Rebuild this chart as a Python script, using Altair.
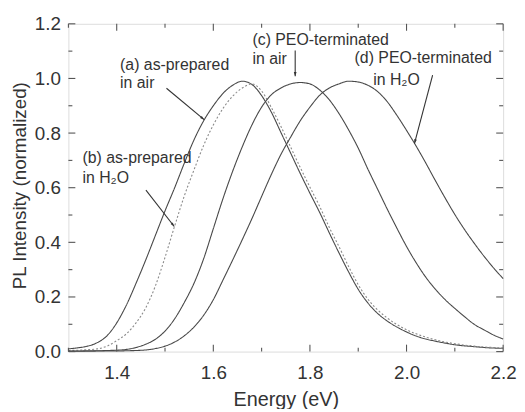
import math
import altair as alt
import pandas as pd

# ---------------- data ----------------
energy = [1.30, 1.32, 1.34, 1.36, 1.38, 1.40, 1.42, 1.44, 1.46, 1.48,
          1.50, 1.52, 1.54, 1.56, 1.58, 1.60, 1.62, 1.64, 1.66, 1.68,
          1.70, 1.72, 1.74, 1.76, 1.78, 1.80, 1.82, 1.84, 1.86, 1.88,
          1.90, 1.92, 1.94, 1.96, 1.98, 2.00, 2.02, 2.04, 2.06, 2.08,
          2.10, 2.12, 2.14, 2.16, 2.18, 2.20]

pl_a = [0.010, 0.014, 0.020, 0.033, 0.058, 0.105, 0.170, 0.250, 0.335, 0.425,
        0.515, 0.600, 0.690, 0.775, 0.845, 0.900, 0.945, 0.975, 0.990, 0.978,
        0.937, 0.877, 0.802, 0.727, 0.652, 0.580, 0.510, 0.435, 0.362, 0.292,
        0.228, 0.178, 0.140, 0.112, 0.090, 0.072, 0.057, 0.046, 0.038, 0.031,
        0.025, 0.021, 0.018, 0.015, 0.013, 0.012]

pl_b = [0.004, 0.005, 0.007, 0.010, 0.020, 0.040, 0.065, 0.105, 0.160, 0.240,
        0.345, 0.460, 0.570, 0.665, 0.755, 0.830, 0.890, 0.935, 0.965, 0.980,
        0.954, 0.894, 0.824, 0.749, 0.674, 0.602, 0.532, 0.455, 0.385, 0.312,
        0.245, 0.192, 0.153, 0.123, 0.099, 0.080, 0.065, 0.053, 0.043, 0.035,
        0.029, 0.024, 0.020, 0.017, 0.015, 0.013]

pl_c = [0.002, 0.002, 0.003, 0.003, 0.004, 0.005, 0.008, 0.015, 0.027, 0.045,
        0.075, 0.120, 0.180, 0.250, 0.340, 0.450, 0.560, 0.660, 0.750, 0.830,
        0.895, 0.940, 0.965, 0.980, 0.985, 0.980, 0.958, 0.922, 0.872, 0.812,
        0.745, 0.668, 0.595, 0.522, 0.452, 0.385, 0.325, 0.272, 0.228, 0.190,
        0.158, 0.128, 0.100, 0.080, 0.061, 0.046]

pl_d = [0.001, 0.001, 0.001, 0.002, 0.002, 0.002, 0.003, 0.004, 0.006, 0.011,
        0.020, 0.035, 0.058, 0.090, 0.133, 0.190, 0.262, 0.335, 0.410, 0.487,
        0.568, 0.648, 0.722, 0.785, 0.845, 0.895, 0.938, 0.965, 0.980, 0.990,
        0.987, 0.975, 0.952, 0.915, 0.865, 0.810, 0.752, 0.690, 0.625, 0.562,
        0.502, 0.447, 0.397, 0.350, 0.307, 0.267]

series_ids = ["a", "b", "c", "d"]

x_major = [1.4, 1.6, 1.8, 2.0, 2.2]
x_minor = [1.3, 1.5, 1.7, 1.9, 2.1]
y_major = [0.0, 0.2, 0.4, 0.6, 0.8, 1.0, 1.2]
y_minor = [0.1, 0.3, 0.5, 0.7, 0.9, 1.1]

# annotation text (data coordinates)
label_text = ["(a) as-prepared", "in air",
              "(b) as-prepared", "in H\u2082O",
              "(c) PEO-terminated", "in air",
              "(d) PEO-terminated", "in H\u2082O"]
label_e = [1.407, 1.407, 1.329, 1.329, 1.681, 1.681, 1.8925, 1.931]
label_v = [1.048, 0.983, 0.707, 0.635, 1.142, 1.070, 1.073, 0.993]

# arrows (start -> tip), data coordinates
arrow_e1 = [1.503, 1.4605, 1.7695, 2.054]
arrow_v1 = [0.964, 0.591, 1.102, 1.012]
arrow_e2 = [1.581, 1.5191, 1.7695, 2.0165]
arrow_v2 = [0.849, 0.458, 1.008, 0.762]

# ---------------- layout / style ----------------
W, H = 439, 331
XDOM = [1.3, 2.2]
YDOM = [0.0, 1.2]
FONT = "Arial, Liberation Sans, Helvetica, sans-serif"
LINE = "#484848"
AXC = "#555555"
TXT = "#333333"
MAJ, MIN = 7, 4

xs = alt.Scale(domain=XDOM, nice=False, zero=False)
ys = alt.Scale(domain=YDOM, nice=False, zero=False)

rows = []
for sid, vals in zip(series_ids, [pl_a, pl_b, pl_c, pl_d]):
    for e, v in zip(energy, vals):
        rows.append({"E": e, "I": v, "s": sid})
df = pd.DataFrame(rows)

lines = alt.Chart(df).mark_line(strokeWidth=1.1, interpolate="monotone").encode(
    x=alt.X("E:Q", scale=xs,
            axis=alt.Axis(values=x_major, format=".1f", ticks=False, domain=False, grid=False,
                          labelFlush=False, labelOverlap=False,
                          labelFontSize=19, labelPadding=12, labelFont=FONT, labelColor=TXT,
                          title="Energy (eV)", titleFont=FONT, titleFontSize=20,
                          titleFontWeight="normal", titleColor=TXT, titleY=38)),
    y=alt.Y("I:Q", scale=ys,
            axis=alt.Axis(values=y_major, format=".1f", ticks=False, domain=False, grid=False,
                          labelFlush=False, labelOverlap=False,
                          labelFontSize=19, labelPadding=8, labelFont=FONT, labelColor=TXT,
                          title="PL Intensity (normalized)", titleFont=FONT, titleFontSize=19,
                          titleFontWeight="normal", titleColor=TXT, titleX=-49, titleY=163,
                          titleBaseline="middle")),
    color=alt.Color("s:N", scale=alt.Scale(domain=series_ids,
                                           range=[LINE, "#8a8a8a", LINE, LINE]), legend=None),
    strokeDash=alt.StrokeDash("s:N", scale=alt.Scale(domain=series_ids,
                                                     range=[[1, 0], [2, 2], [1, 0], [1, 0]]),
                              legend=None),
    detail="s:N",
)

def xticks(vals, top, length):
    d = pd.DataFrame({"E": vals})
    if top:
        yv, y2v = 0, length
    else:
        yv, y2v = H, H - length
    return alt.Chart(d).mark_rule(color=AXC, strokeWidth=1.1).encode(
        x=alt.X("E:Q", scale=xs), y=alt.value(yv), y2=alt.value(y2v))

def yticks(vals, right, length):
    d = pd.DataFrame({"I": vals})
    if right:
        xv, x2v = W, W - length
    else:
        xv, x2v = 0, length
    return alt.Chart(d).mark_rule(color=AXC, strokeWidth=1.1).encode(
        y=alt.Y("I:Q", scale=ys), x=alt.value(xv), x2=alt.value(x2v))

tick_layers = [
    xticks(x_major, False, MAJ), xticks(x_minor, False, MIN),
    xticks(x_major, True, MAJ), xticks(x_minor, True, MIN),
    yticks(y_major, False, MAJ), yticks(y_minor, False, MIN),
    yticks(y_major, True, MAJ), yticks(y_minor, True, MIN),
]

# arrows
px_e = W / (XDOM[1] - XDOM[0])
px_v = H / (YDOM[1] - YDOM[0])
angles = []
for e1, v1, e2, v2 in zip(arrow_e1, arrow_v1, arrow_e2, arrow_v2):
    dx = (e2 - e1) * px_e
    dy = -(v2 - v1) * px_v
    angles.append(math.degrees(math.atan2(dx, -dy)) % 360)

arr_df = pd.DataFrame({"e1": arrow_e1, "v1": arrow_v1, "e2": arrow_e2, "v2": arrow_v2,
                       "ang": angles})

arrow_lines = alt.Chart(arr_df).mark_rule(color="#333333", strokeWidth=1.1).encode(
    x=alt.X("e1:Q", scale=xs), y=alt.Y("v1:Q", scale=ys),
    x2="e2:Q", y2="v2:Q")

arrow_heads = alt.Chart(arr_df).mark_point(
    shape="M0,0L-0.33,1L0.33,1Z", filled=True, size=70, color="#333333", opacity=1,
    strokeWidth=0).encode(
    x=alt.X("e2:Q", scale=xs), y=alt.Y("v2:Q", scale=ys),
    angle=alt.Angle("ang:Q", scale=None))

lab_df = pd.DataFrame({"t": label_text, "E": label_e, "I": label_v})
labels = alt.Chart(lab_df).mark_text(align="left", baseline="middle", fontSize=16,
                                     font=FONT, color=TXT).encode(
    x=alt.X("E:Q", scale=xs), y=alt.Y("I:Q", scale=ys), text="t:N")

chart = alt.layer(lines, *tick_layers, arrow_lines, arrow_heads, labels).properties(
    width=W, height=H,
    autosize=alt.AutoSizeParams(type="none"),
    padding={"left": 61, "top": 14, "right": 14, "bottom": 56},
).configure_view(stroke=AXC, strokeWidth=1.3).configure(background="white")

chart.save("out.html", embed_options={"renderer": "svg", "actions": False})
